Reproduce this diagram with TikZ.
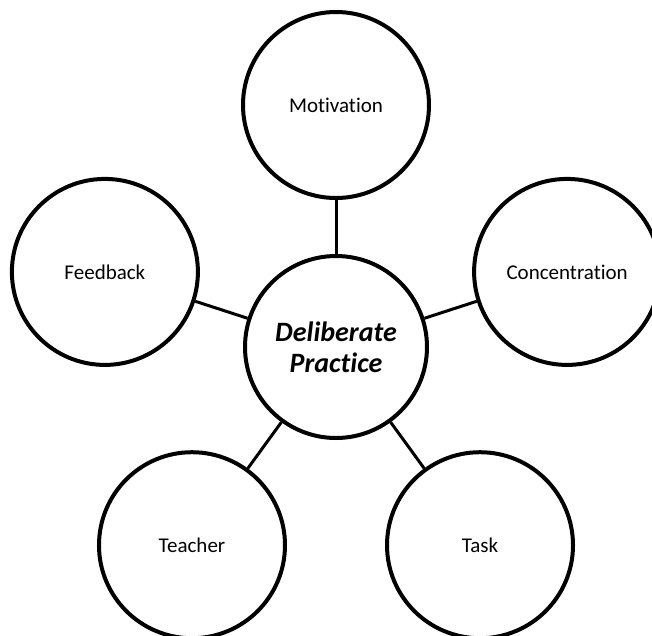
\documentclass[tikz,border=0pt]{standalone}
\usepackage{fontspec}
\setmainfont{Carlito}[Ligatures=NoCommon]
\usetikzlibrary{positioning}

\begin{document}
\begin{tikzpicture}[
        factor/.style={circle,draw,line width=4pt,minimum size=186pt,inner sep=0pt,
                       font=\fontsize{21pt}{24pt}\selectfont},
        core/.style={factor,minimum size=182pt,align=center,
                     font=\fontsize{28pt}{31pt}\selectfont\bfseries\itshape},
        link/.style={line width=3pt}
      ]

  \clip (-336pt,-288pt) rectangle (316pt,347pt);

  \node   (practice) [core] at (0,0) {Deliberate\\Practice};

  \node   (motivation) [factor] at (90:242pt) {Motivation};
  \node   (concentration) [factor] at (18:243pt) {Concentration};
  \node   (feedback) [factor] at (162:243pt) {Feedback};
  \node   (teacher) [factor] at (234:245pt) {Teacher};
  \node   (task) [factor] at (306:245pt) {Task};

  % spokes
  \draw[link] (practice) -- (motivation);
  \draw[link] (practice) -- (concentration);
  \draw[link] (practice) -- (feedback);
  \draw[link] (practice) -- (teacher);
  \draw[link] (practice) -- (task);

\end{tikzpicture}
\end{document}
